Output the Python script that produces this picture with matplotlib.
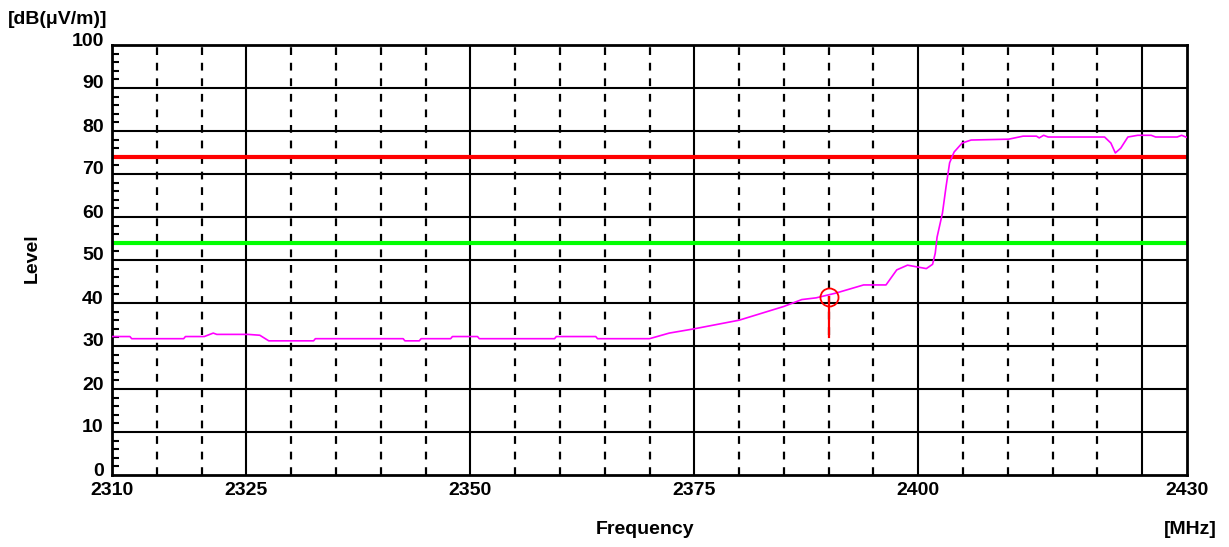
import matplotlib
matplotlib.use("Agg")
import matplotlib.pyplot as plt
import matplotlib.transforms as mtransforms
from matplotlib.ticker import MultipleLocator, FixedLocator

plt.rcParams['font.family'] = ['Liberation Sans Narrow', 'Liberation Sans', 'DejaVu Sans']

# measured trace (MHz, dBuV/m)
freq = [2310, 2312, 2312.2, 2318, 2318.2, 2320.3, 2321.3, 2321.7, 2325.2, 2326.5,
        2327.5, 2332.5, 2332.7, 2342.5, 2342.7, 2344.3, 2344.5, 2347.8, 2348, 2350.8,
        2351, 2359.4, 2359.6, 2364, 2364.2, 2370, 2372.2, 2375, 2380, 2385,
        2387, 2388.6, 2390.8, 2393.9, 2396.4, 2397.6, 2398.8, 2400.9, 2401.6, 2401.9,
        2402.1, 2402.7, 2403.1, 2403.5, 2404.0, 2404.9, 2405.9, 2410.1, 2411.7, 2413.2,
        2413.5, 2414.0, 2414.5, 2420.8, 2421.5, 2422.0, 2422.6, 2423.4, 2424.5, 2426.0,
        2426.5, 2428.9, 2429.4, 2430]
level = [32.2, 32.2, 31.7, 31.7, 32.2, 32.2, 33.0, 32.7, 32.7, 32.5,
         31.2, 31.2, 31.7, 31.7, 31.2, 31.2, 31.7, 31.7, 32.2, 32.2,
         31.7, 31.7, 32.2, 32.2, 31.7, 31.7, 33.0, 34.0, 36.0, 39.2,
         40.8, 41.2, 42.3, 44.2, 44.2, 47.7, 48.8, 48.0, 49.0, 51.6,
         55.3, 60.9, 67.0, 72.6, 75.1, 77.2, 77.9, 78.1, 78.8, 78.8,
         78.4, 79.0, 78.6, 78.6, 77.2, 74.9, 76.0, 78.6, 79.0, 79.0,
         78.6, 78.6, 79.0, 78.5]

peak_limit = 74
avg_limit = 54
marker_f = 2390
marker_lvl = 41.5
marker_base = 32

xticks = [2310, 2325, 2350, 2375, 2400, 2430]
major_grid = [2325, 2350, 2375, 2400, 2425]
minor_grid = [f for f in range(2315, 2430, 5) if f not in major_grid]

fig = plt.figure(figsize=(12.29, 5.47), dpi=100)
ax = fig.add_axes([112 / 1229, 1 - 475 / 547, 1075 / 1229, 430 / 547])

ax.set_xlim(2310, 2430)
ax.set_ylim(0, 100)

# grid
for y in range(10, 100, 10):
    ax.axhline(y, color='black', lw=1.5, zorder=1)
for f in major_grid:
    ax.axvline(f, color='black', lw=1.5, zorder=1)
for f in minor_grid:
    ax.axvline(f, color='black', lw=1.6, ls=(0, (3.5, 3.5)), zorder=1)

ax.axhline(peak_limit, color='#ff0000', lw=3, zorder=2)
ax.axhline(avg_limit, color='#00ff00', lw=3, zorder=2)

ax.plot(freq, level, color='#ff00ff', lw=1.2, zorder=3)

ax.plot([marker_f, marker_f], [marker_base, marker_lvl], color='#ff0000', lw=1.6, zorder=4)
ax.plot(marker_f, marker_lvl, 'o', mfc='none', mec='#ff0000', mew=1.3, ms=13, zorder=4)

for s in ax.spines.values():
    s.set_linewidth(2)

ax.xaxis.set_major_locator(FixedLocator(xticks))
ax.yaxis.set_major_locator(MultipleLocator(10))
ax.yaxis.set_minor_locator(MultipleLocator(2))
ax.tick_params(axis='x', length=0, pad=5, labelsize=14)
ax.tick_params(axis='y', which='major', length=0, pad=6, labelsize=14)
ax.tick_params(axis='y', which='minor', direction='in', length=5, width=1.5)

# y labels sit a few pixels above their grid lines in the original
shift = mtransforms.ScaledTranslation(0, 6 / 100, fig.dpi_scale_trans)
for lbl in ax.get_yticklabels():
    lbl.set_transform(lbl.get_transform() + shift)
for lbl in ax.get_xticklabels() + ax.get_yticklabels():
    lbl.set_fontweight('bold')

fig.text(8 / 1229, 1 - 20 / 547, '[dB(μV/m)]', fontsize=14, fontweight='bold',
         ha='left', va='center')
fig.text(32 / 1229, 1 - 258 / 547, 'Level', fontsize=14, fontweight='bold',
         rotation=90, ha='center', va='center')
fig.text(645 / 1229, 1 - 530 / 547, 'Frequency', fontsize=14, fontweight='bold',
         ha='center', va='center')
fig.text(1190 / 1229, 1 - 530 / 547, '[MHz]', fontsize=14, fontweight='bold',
         ha='center', va='center')

fig.savefig('out.png', dpi=100)
